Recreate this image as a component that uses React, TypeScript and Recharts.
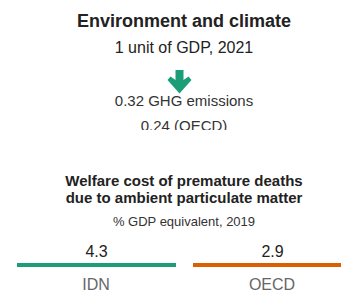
import { Bar, BarChart, XAxis, YAxis } from 'recharts'

const countries = ['IDN', 'OECD']
const welfareCost = [4.3, 2.9]
const countryColors = ['#1b9e77', '#d95f02']

const ghgIntensity = 0.32
const ghgIntensityOecd = 0.24

const FONT = "'Liberation Sans', Arial, sans-serif"

const data = countries.map((name, i) => ({ name, value: welfareCost[i] }))

// draws a flat stripe at the bar's base with the value sitting above it
function StripeBar(props: any) {
  const { x, y, width, height, index, value } = props
  const base = y + height
  return (
    <g>
      <rect x={x} y={base - 4} width={width} height={4} fill={countryColors[index]} />
      <text
        x={x + width / 2}
        y={base - 10}
        textAnchor="middle"
        fontSize={16}
        fontFamily={FONT}
        fill="#222"
      >
        {Array.isArray(value) ? value[1] : value}
      </text>
    </g>
  )
}

export default function App() {
  const cx = 184
  return (
    <div
      style={{
        position: 'absolute',
        left: 0,
        top: 0,
        width: 341,
        height: 292,
        overflow: 'hidden',
        background: '#fff',
        fontFamily: FONT,
      }}
    >
      <svg width={341} height={232} style={{ position: 'absolute', left: 0, top: 0 }}>
        <defs>
          <clipPath id="ghgClip">
            <rect x={0} y={0} width={341} height={130} />
          </clipPath>
        </defs>
        <text x={cx} y={27} textAnchor="middle" fontSize={18} fontWeight="bold" fill="#222">
          Environment and climate
        </text>
        <text x={cx} y={53} textAnchor="middle" fontSize={16} fill="#222">
          1 unit of GDP, 2021
        </text>
        <path
          d="M175.5,70 L183.5,70 L183.5,80 L188.5,76.5 L191.5,80 L179.5,93.5 L167.5,80 L170.5,76.5 L175.5,80 Z"
          fill="#1b9e77"
        />
        <g clipPath="url(#ghgClip)">
          <text x={cx} y={106} textAnchor="middle" fontSize={15} fill="#333">
            {ghgIntensity} GHG emissions
          </text>
          <text x={cx} y={130.5} textAnchor="middle" fontSize={15} fill="#333">
            {ghgIntensityOecd} (OECD)
          </text>
        </g>
        <text x={cx} y={186} textAnchor="middle" fontSize={15} fontWeight="bold" fill="#222">
          Welfare cost of premature deaths
        </text>
        <text x={cx} y={203} textAnchor="middle" fontSize={15} fontWeight="bold" fill="#222">
          due to ambient particulate matter
        </text>
        <text x={cx} y={226} textAnchor="middle" fontSize={13} fill="#333">
          % GDP equivalent, 2019
        </text>
      </svg>
      <div style={{ position: 'absolute', left: 8, top: 232 }}>
        <BarChart
          width={352}
          height={60}
          data={data}
          margin={{ top: 0, right: 0, left: 0, bottom: 0 }}
        >
          <XAxis
            dataKey="name"
            height={25}
            axisLine={false}
            tickLine={false}
            tickMargin={6}
            interval={0}
            tick={{ fontSize: 16, fill: '#666', fontFamily: FONT }}
          />
          <YAxis hide width={0} domain={[0, 5]} />
          <Bar dataKey="value" barSize={159} shape={StripeBar} isAnimationActive={false} />
        </BarChart>
      </div>
    </div>
  )
}
